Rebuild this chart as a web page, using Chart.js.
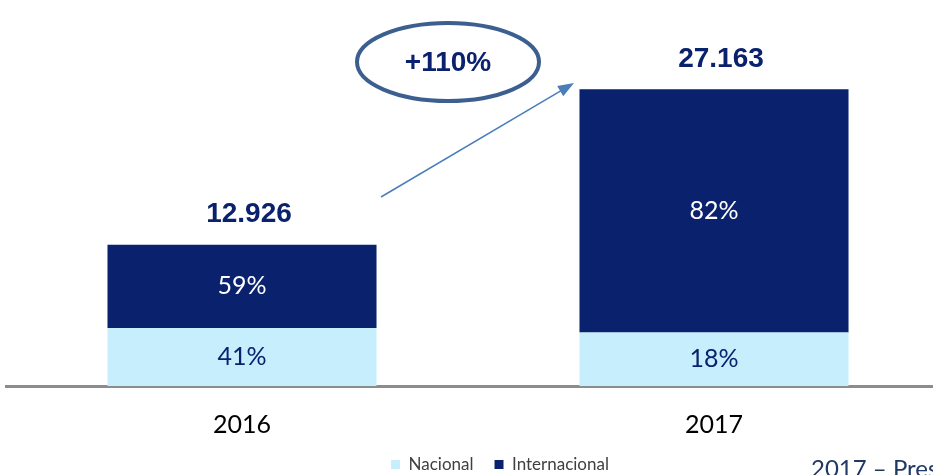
<!DOCTYPE html>
<html>
<head>
<meta charset="utf-8">
<script src="https://cdn.jsdelivr.net/npm/chart.js@4"></script>
<style>
  html, body { margin: 0; padding: 0; background: #fff; overflow: hidden; }
  #wrap { width: 950px; height: 475px; }
</style>
</head>
<body>
<div id="wrap"><canvas id="ventas"></canvas></div>
<script>
// anni e valori (totali e quote)
const years = ['2016', '2017'];
const totals = [12926, 27163];
const nacional = [5300, 4889];
const internacional = [7626, 22274];
const pctNacional = ['41%', '18%'];
const pctInternacional = ['59%', '82%'];
const growthLabel = '+110%';
const footNote = '2017 – Pres';

const darkBlue = '#0A216E';
const lightBlue = '#C6EEFC';

const ctx = document.querySelector('#ventas').getContext('2d');

// etichette, ellisse e freccia
const extras = {
  id: 'extras',
  afterLayout(chart) {
    // sposto la legenda un po' a destra e in fondo (riga centrata a y=466)
    const lg = chart.legend;
    const dy = 466 - (lg.top + 21 + 10);
    lg.left += 22; lg.right += 22;
    lg.top += dy; lg.bottom += dy;
  },
  afterDatasetsDraw(chart) {
    const c = chart.ctx;
    const nac = chart.getDatasetMeta(0).data;
    const int = chart.getDatasetMeta(1).data;
    c.save();
    c.textAlign = 'center';
    c.textBaseline = 'middle';
    nac.forEach((bar, i) => {
      c.font = '25px Lato';
      c.fillStyle = darkBlue;
      c.fillText(pctNacional[i], bar.x, (bar.y + bar.base) / 2);
      const top = int[i];
      c.fillStyle = '#ffffff';
      c.fillText(pctInternacional[i], top.x, (top.y + top.base) / 2);
      c.font = 'bold 28px "Liberation Sans"';
      c.fillStyle = darkBlue;
      c.fillText(totals[i].toLocaleString('de-DE'), top.x + 7, top.y - 30);
    });

    // ellisse con crescita
    const ex = 448, ey = 62;
    c.beginPath();
    c.ellipse(ex, ey, 91, 39, 0, 0, Math.PI * 2);
    c.lineWidth = 4;
    c.strokeStyle = '#3B5F8F';
    c.stroke();
    c.font = 'bold 28px "Liberation Sans"';
    c.fillStyle = darkBlue;
    c.fillText(growthLabel, ex, ey + 1);

    // freccia
    const x0 = 381, y0 = 197, x1 = 574, y1 = 83;
    const ang = Math.atan2(y1 - y0, x1 - x0);
    c.beginPath();
    c.moveTo(x0, y0);
    c.lineTo(x1 - 12 * Math.cos(ang), y1 - 12 * Math.sin(ang));
    c.lineWidth = 1.5;
    c.strokeStyle = '#4A7EBB';
    c.stroke();
    c.beginPath();
    c.moveTo(x1, y1);
    c.lineTo(x1 - 16 * Math.cos(ang) + 6 * Math.sin(ang), y1 - 16 * Math.sin(ang) - 6 * Math.cos(ang));
    c.lineTo(x1 - 16 * Math.cos(ang) - 6 * Math.sin(ang), y1 - 16 * Math.sin(ang) + 6 * Math.cos(ang));
    c.closePath();
    c.fillStyle = '#4A7EBB';
    c.fill();

    // nota in basso a destra
    c.textAlign = 'left';
    c.textBaseline = 'alphabetic';
    c.font = '24px Lato';
    c.fillStyle = '#1F3864';
    c.fillText(footNote, 811, 477);
    c.restore();
  }
};

new Chart(ctx, {
  type: 'bar',
  data: {
    labels: years,
    datasets: [
      {
        label: 'Nacional',
        data: nacional,
        backgroundColor: lightBlue,
        categoryPercentage: 1,
        barPercentage: 0.57,
      },
      {
        label: 'Internacional',
        data: internacional,
        backgroundColor: darkBlue,
        categoryPercentage: 1,
        barPercentage: 0.57,
      }
    ]
  },
  options: {
    responsive: true,
    maintainAspectRatio: false,
    animation: false,
    layout: { padding: { left: 6, top: 20, right: 0, bottom: -37 } },
    plugins: {
      tooltip: { enabled: false },
      legend: {
        position: 'bottom',
        labels: {
          boxWidth: 9,
          boxHeight: 9,
          padding: 21,
          color: '#404040',
          font: { family: 'Lato', size: 17 },
        }
      }
    },
    scales: {
      x: {
        stacked: true,
        grid: { display: false, drawTicks: false },
        border: { display: true, color: '#8C8C8C', width: 3 },
        ticks: {
          padding: 24,
          color: '#000000',
          font: { family: 'Lato', size: 25 },
        }
      },
      y: {
        stacked: true,
        display: false,
        min: 0,
        max: 33500,
      }
    }
  },
  plugins: [extras]
});
</script>
</body>
</html>
